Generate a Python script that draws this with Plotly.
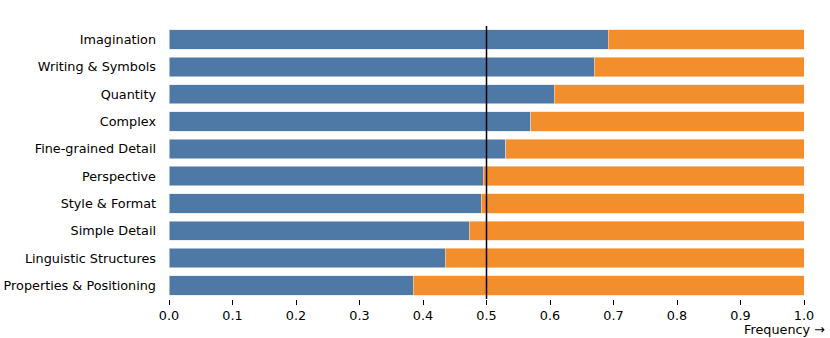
import plotly.graph_objects as go

categories = [
    "Imagination", "Writing & Symbols", "Quantity", "Complex",
    "Fine-grained Detail", "Perspective", "Style & Format", "Simple Detail",
    "Linguistic Structures", "Properties & Positioning",
]
blue_share = [0.692, 0.670, 0.607, 0.570, 0.530, 0.495, 0.492, 0.473, 0.435, 0.385]
orange_share = [round(1 - v, 3) for v in blue_share]
x_ticks = [0.0, 0.1, 0.2, 0.3, 0.4, 0.5, 0.6, 0.7, 0.8, 0.9, 1.0]

font = dict(family="DejaVu Sans", size=12.8, color="black")

fig = go.Figure()
fig.add_trace(go.Bar(
    y=categories, x=blue_share, orientation="h",
    marker=dict(color="#4e79a7", line=dict(color="#dfe6ef", width=0.6)),
    width=0.71, showlegend=False,
))
fig.add_trace(go.Bar(
    y=categories, x=orange_share, orientation="h",
    marker=dict(color="#f28e2b", line=dict(color="#f8d8b8", width=0.6)),
    width=0.71, showlegend=False,
))

# reference line at 0.5
fig.add_shape(type="line", x0=0.5, x1=0.5, xref="x", y0=0, y1=1.0, yref="paper",
              line=dict(color="black", width=1.5))

fig.add_annotation(text="Frequency →", xref="paper", yref="paper", x=1, y=0,
                   xanchor="right", yanchor="top", xshift=23, yshift=-21,
                   showarrow=False, font=font)

fig.update_layout(
    barmode="stack",
    width=830, height=338,
    margin=dict(l=169, r=26, t=26, b=39),
    plot_bgcolor="white", paper_bgcolor="white",
    font=font,
    bargap=0.29,
)
fig.update_xaxes(
    range=[0, 1.0], tickvals=x_ticks, ticktext=[f"{v:.1f}" for v in x_ticks],
    ticks="outside", ticklen=5, tickwidth=1, tickcolor="black",
    showgrid=False, showline=False, zeroline=False,
)
fig.update_yaxes(
    categoryorder="array", categoryarray=categories[::-1],
    ticks="", ticklabelstandoff=12, showgrid=False, showline=False, zeroline=False,
    automargin=False,
)

# drop the default 8px body margin so the figure fills the window
fig.write_html("out.html", config={"displayModeBar": False},
               post_script="document.body.style.margin = '0';")
